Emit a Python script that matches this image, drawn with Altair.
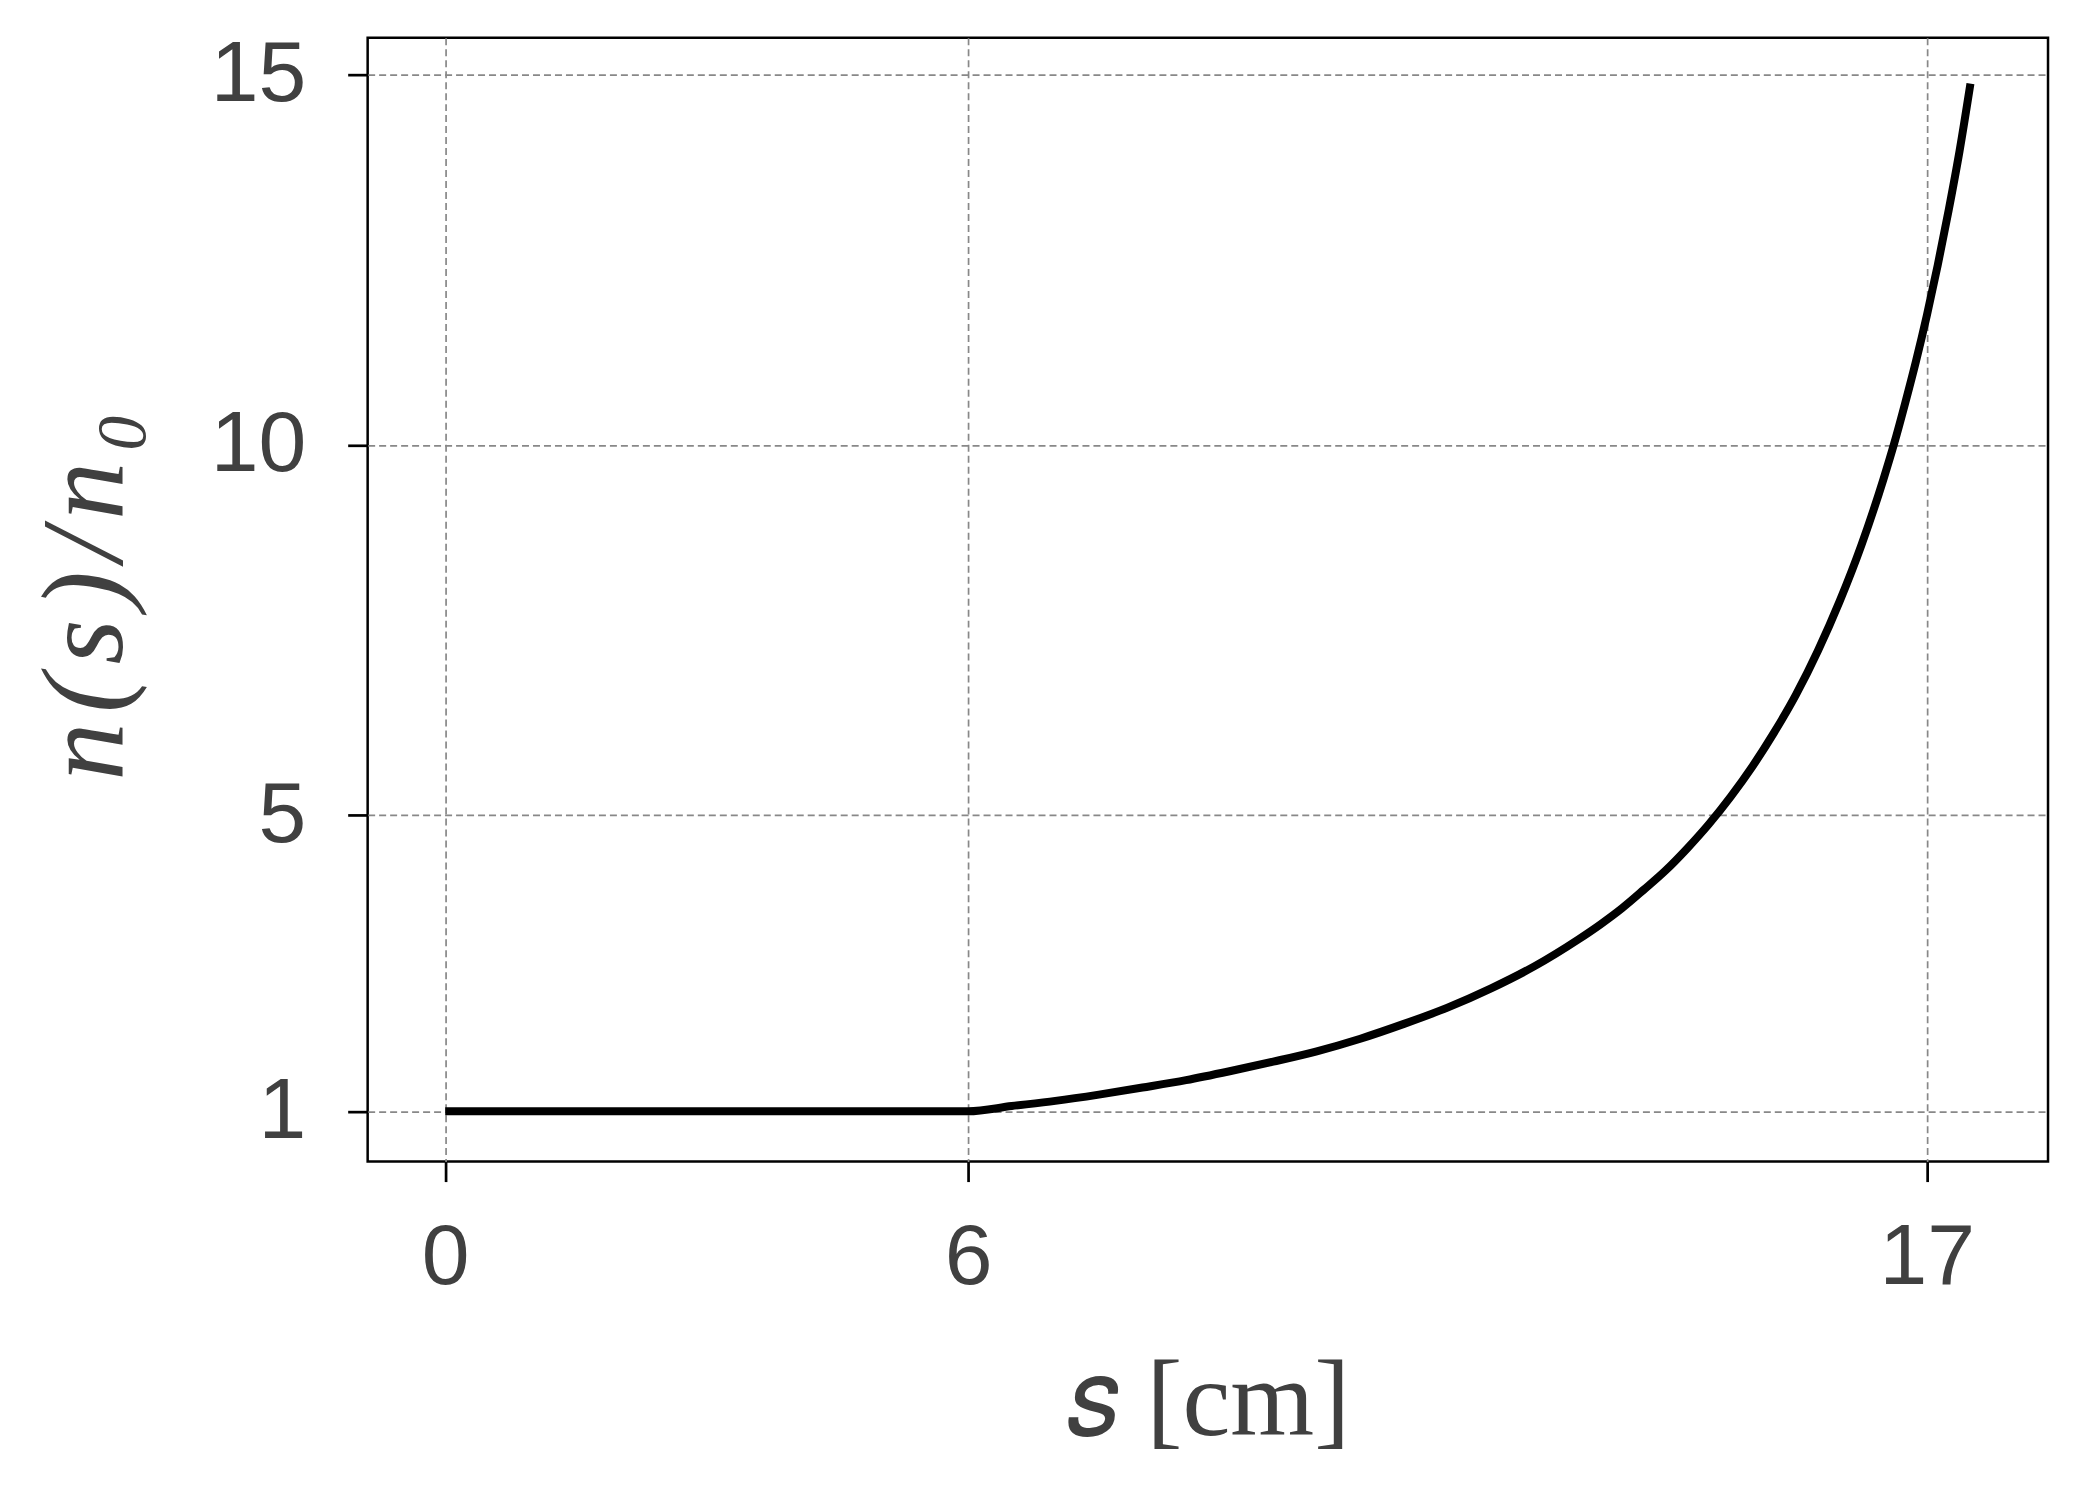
import altair as alt
import pandas as pd

# values
s_cm = [0, 1, 2, 3, 4, 5, 6, 6.5, 7, 7.5, 8, 8.5, 9, 9.5, 10, 10.5, 11, 11.5, 12,
        12.5, 13, 13.25, 13.5, 13.75, 14, 14.25, 14.5, 14.75, 15, 15.25, 15.5,
        15.75, 16, 16.25, 16.5, 16.625, 16.75, 16.875, 17, 17.125, 17.25, 17.375,
        17.5]
n_ratio = [1, 1, 1, 1, 1, 1, 1.0, 1.07, 1.14, 1.225, 1.32, 1.42, 1.54, 1.67,
           1.81, 1.98, 2.18, 2.40, 2.66, 2.96, 3.32, 3.52, 3.74, 3.99, 4.25,
           4.55, 4.88, 5.25, 5.66, 6.12, 6.63, 7.22, 7.89, 8.65, 9.53, 10.02,
           10.56, 11.13, 11.75, 12.43, 13.17, 13.97, 14.88]

x_ticks = [0, 6, 17]
y_ticks = [1, 5, 10, 15]

df = pd.DataFrame({"s": s_cm, "n": n_ratio})

PLOT_W, PLOT_H = 1682, 1125
HS = "\u200a"  # hair space

line = alt.Chart(df).mark_line(
    color="black", strokeWidth=8, interpolate="monotone", strokeCap="butt"
).encode(
    x=alt.X("s:Q",
            scale=alt.Scale(domain=[-0.89, 18.39], nice=False, zero=False),
            axis=alt.Axis(values=x_ticks, title="𝑠 [cm]",
                          titleFont="Liberation Serif", titleFontStyle="normal",
                          titleFontSize=108, titleFontWeight="normal",
                          titleX=PLOT_W / 2, titleY=273, titleAlign="center",
                          titleBaseline="alphabetic", titleAngle=0,
                          labelPadding=34)),
    y=alt.Y("n:Q",
            scale=alt.Scale(domain=[0.32, 15.5], nice=False, zero=False),
            axis=alt.Axis(values=y_ticks,
                          title=HS.join(["n", "(", "s", ")", "/", "n", "₀"]),
                          titleFont="Liberation Serif", titleFontStyle="italic",
                          titleFontSize=116, titleFontWeight="normal",
                          titleX=-246, titleY=PLOT_H / 2 - 4, titleAlign="center",
                          titleBaseline="alphabetic", titleAngle=270,
                          labelPadding=42)),
)

chart = line.properties(
    width=PLOT_W, height=PLOT_H,
    autosize=alt.AutoSizeParams(type="none"),
    padding={"left": 360, "top": 29, "right": 20, "bottom": 330},
).configure_view(
    stroke="black", strokeWidth=2.5
).configure_axis(
    grid=True, gridColor="#888888", gridDash=[7, 4], gridWidth=1.7,
    domain=False,
    ticks=True, tickColor="black", tickWidth=2.7, tickSize=20,
    labelFont="Liberation Sans", labelFontSize=86, labelColor="#404040",
    labelFlush=False, labelOverlap=False, labelBound=False,
    titleColor="#404040",
)

chart.save("out.html", embed_options={"renderer": "svg", "actions": False})
